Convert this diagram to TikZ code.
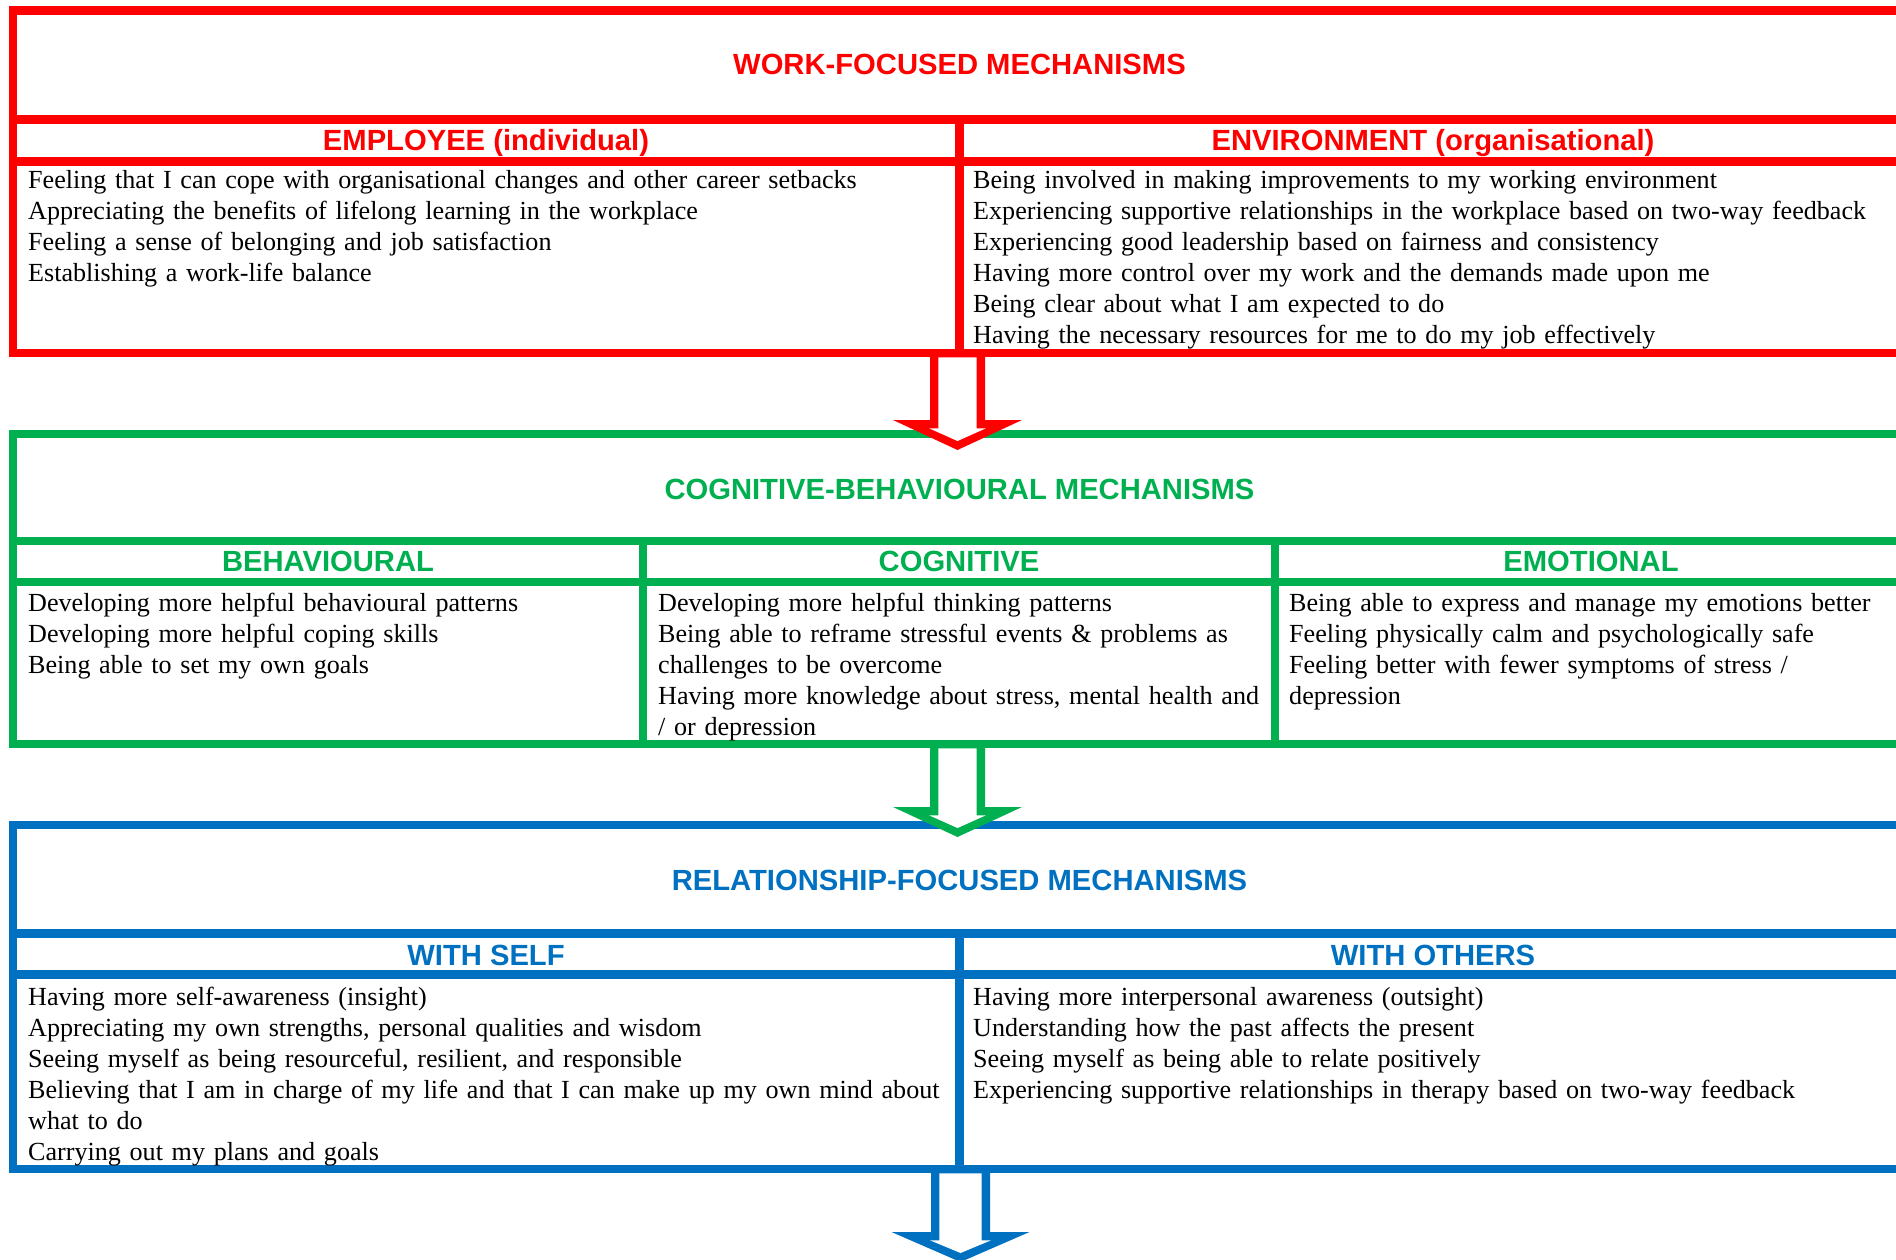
\documentclass[tikz,border=0pt]{standalone}
\usepackage{fontspec}
\setmainfont{Liberation Serif}
\setsansfont{Liberation Sans}
\definecolor{wred}{RGB}{255,0,0}
\definecolor{wgreen}{RGB}{0,176,80}
\definecolor{wblue}{RGB}{0,112,192}

\tikzset{
  rule/.style={line width=8.6pt},
  heading/.style={anchor=base, inner sep=0pt, font=\fontsize{29.2}{34}\selectfont\sffamily\bfseries},
  cell/.style={anchor=base west, inner sep=0pt, text width=1200pt, align=left,
    font=\fontsize{26.1}{31}\selectfont},
  % hollow block arrow pointing down: colour / shaft length / outer shaft half-width /
  % wing half-width / inner wing half-width
  pics/hollowdown/.style args={#1/#2/#3/#4/#5}{code={
    \fill[#1] (-#3,0) -- (-#3,#2) -- (-#4,#2) -- (0,#2+30) -- (#4,#2) -- (#3,#2) -- (#3,0) -- cycle;
    \fill[white] (-#3+8.3,4.3) -- (-#3+8.3,#2+8.3) -- (-#5,#2+8.3) -- (0,#2+21) -- (#5,#2+8.3)
      -- (#3-8.3,#2+8.3) -- (#3-8.3,4.3) -- cycle;
  }},
}

\begin{document}
\begin{tikzpicture}[x=1pt,y=-1pt]
\useasboundingbox (0,0) rectangle (1896,1260);
\clip (0,0) rectangle (1896,1260);

% ---------- work-focused mechanisms ----------
\draw[rule, wred] (13,10.5) rectangle (1906,353);
\draw[rule, wred] (13,119.5) -- (1906,119.5) (13,161.5) -- (1906,161.5) (959.5,119.5) -- (959.5,353);
\node[heading, wred] (wtitle) at (959.5,74.5) {WORK-FOCUSED MECHANISMS};
\node[heading, wred] (wemp) at (486,150.5) {EMPLOYEE (individual)};
\node[heading, wred] (wenv) at (1433,150.5) {ENVIRONMENT (organisational)};
\node[cell] (wempbody) at (28,189) {Feeling that I can cope with organisational changes and other career setbacks\\
Appreciating the benefits of lifelong learning in the workplace\\
Feeling a sense of belonging and job satisfaction\\
Establishing a work-life balance};
\node[cell] (wenvbody) at (973,189) {Being involved in making improvements to my working environment\\
Experiencing supportive relationships in the workplace based on two-way feedback\\
Experiencing good leadership based on fairness and consistency\\
Having more control over my work and the demands made upon me\\
Being clear about what I am expected to do\\
Having the necessary resources for me to do my job effectively};
\coordinate (wbot) at (957.5,353);

% ---------- cognitive-behavioural mechanisms ----------
\draw[rule, wgreen] (13,434) rectangle (1906,744);
\draw[rule, wgreen] (13,541) -- (1906,541) (13,582) -- (1906,582)
  (643,541) -- (643,744) (1275,541) -- (1275,744);
\node[heading, wgreen] (ctitle) at (959.5,499) {COGNITIVE-BEHAVIOURAL MECHANISMS};
\node[heading, wgreen] (cbeh) at (328,571.5) {BEHAVIOURAL};
\node[heading, wgreen] (ccog) at (959,571.5) {COGNITIVE};
\node[heading, wgreen] (cemo) at (1591,571.5) {EMOTIONAL};
\node[cell] (cbehbody) at (28,611) {Developing more helpful behavioural patterns\\
Developing more helpful coping skills\\
Being able to set my own goals};
\node[cell] (ccogbody) at (658,611) {Developing more helpful thinking patterns\\
Being able to reframe stressful events \& problems as\\
challenges to be overcome\\
Having more knowledge about stress, mental health and\\
/ or depression};
\node[cell] (cemobody) at (1289,611) {Being able to express and manage my emotions better\\
Feeling physically calm and psychologically safe\\
Feeling better with fewer symptoms of stress /\\
depression};
\coordinate (gbot) at (957.5,744);

% ---------- relationship-focused mechanisms ----------
\draw[rule, wblue] (13,825) rectangle (1906,1169);
\draw[rule, wblue] (13,933.5) -- (1906,933.5) (13,974.5) -- (1906,974.5) (959.5,933.5) -- (959.5,1169);
\node[heading, wblue] (rtitle) at (959.5,890.5) {RELATIONSHIP-FOCUSED MECHANISMS};
\node[heading, wblue] (rself) at (486,965.5) {WITH SELF};
\node[heading, wblue] (roth) at (1433,965.5) {WITH OTHERS};
\node[cell] (rselfbody) at (28,1005) {Having more self-awareness (insight)\\
Appreciating my own strengths, personal qualities and wisdom\\
Seeing myself as being resourceful, resilient, and responsible\\
Believing that I am in charge of my life and that I can make up my own mind about\\
what to do\\
Carrying out my plans and goals};
\node[cell] (rothbody) at (973,1005) {Having more interpersonal awareness (outsight)\\
Understanding how the past affects the present\\
Seeing myself as being able to relate positively\\
Experiencing supportive relationships in therapy based on two-way feedback};
\coordinate (bbot) at (960.5,1169);

% ---------- arrows between the levels ----------
\pic at (wbot) {hollowdown={wred/67/27.5/64.5/28.4}};
\pic at (gbot) {hollowdown={wgreen/63/27.5/64.5/28.4}};
\pic at (bbot) {hollowdown={wblue/63/29.5/69/30.5}};
\end{tikzpicture}
\end{document}
